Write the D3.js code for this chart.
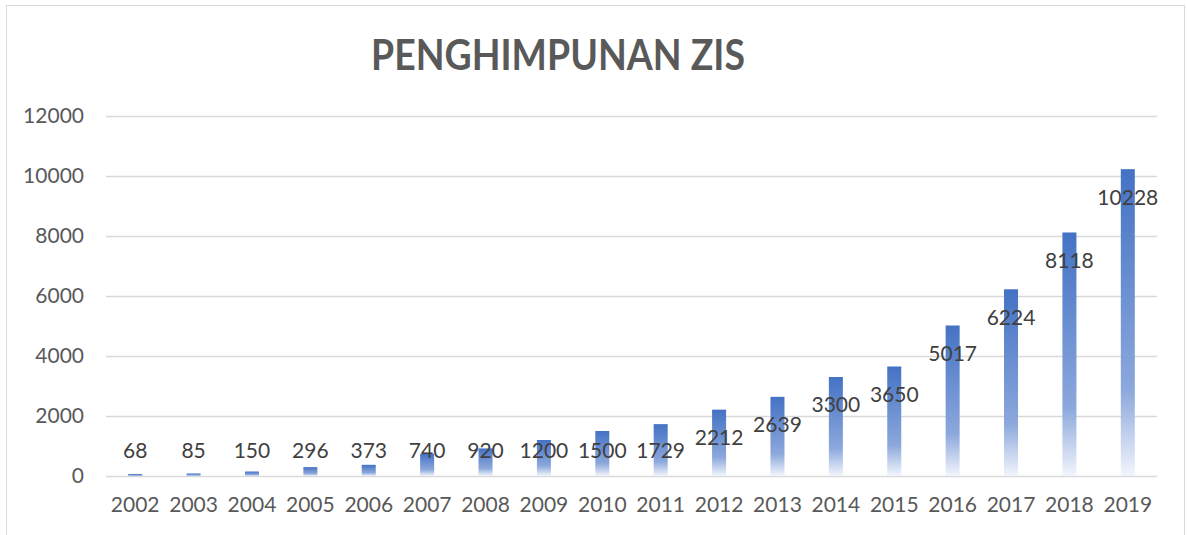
<!DOCTYPE html>
<html>
<head>
<meta charset="utf-8">
<script src="https://cdn.jsdelivr.net/npm/d3@7"></script>
<style>
  body { margin: 0; background: #fff; }
  svg text { font-family: Lato, "Open Sans", sans-serif; }
</style>
</head>
<body>
<div id="chart"></div>
<script>
const years = ["2002", "2003", "2004", "2005", "2006", "2007", "2008", "2009", "2010",
               "2011", "2012", "2013", "2014", "2015", "2016", "2017", "2018", "2019"];
const values = [68, 85, 150, 296, 373, 740, 920, 1200, 1500,
                1729, 2212, 2639, 3300, 3650, 5017, 6224, 8118, 10228];
const yTicks = [0, 2000, 4000, 6000, 8000, 10000, 12000];
const title = "PENGHIMPUNAN ZIS";

const w = 1187;
const h = 535;

const svg = d3.select("#chart")
              .append("svg")
              .attr("width", w)
              .attr("height", h);

// per-bar gradient, solid at the top fading out at the bottom
const grad = svg.append("defs")
                .append("linearGradient")
                .attr("id", "barFill")
                .attr("x1", 0).attr("y1", 0)
                .attr("x2", 0).attr("y2", 1);
grad.append("stop").attr("offset", "0%").attr("stop-color", "#4472C4");
grad.append("stop").attr("offset", "72%").attr("stop-color", "#8CA8DC");
grad.append("stop").attr("offset", "100%").attr("stop-color", "#F2F5FC");

// chart frame
svg.append("rect")
   .attr("x", 6.5).attr("y", 5.5)
   .attr("width", 1178).attr("height", 540)
   .attr("fill", "none")
   .attr("stroke", "#D9D9D9")
   .attr("stroke-width", 1);

const xScale = d3.scaleBand()
                 .domain(years)
                 .range([106, 1157])
                 .paddingInner(0.76)
                 .paddingOuter(0.38);

const yScale = d3.scaleLinear()
                 .domain([0, 12000])
                 .range([476, 116]);

// gridlines + y labels
const yAxis = d3.axisLeft(yScale)
                .tickValues(yTicks)
                .tickFormat(d3.format("d"))
                .tickSize(-(1157 - 106))
                .tickPadding(22);

const yG = svg.append("g")
              .attr("transform", "translate(106, 0)")
              .call(yAxis);
yG.select(".domain").remove();
yG.selectAll(".tick line").attr("stroke", "#D9D9D9").attr("stroke-width", 1.5);
yG.selectAll(".tick text")
  .attr("fill", "#595959")
  .style("font-size", "21px");

// x labels
const xAxis = d3.axisBottom(xScale).tickSize(0).tickPadding(21);
const xG = svg.append("g")
              .attr("transform", "translate(0, 476)")
              .call(xAxis);
xG.select(".domain").remove();
xG.selectAll(".tick text")
  .attr("fill", "#595959")
  .style("font-size", "21px");

// bars
svg.selectAll("rect.bar")
   .data(values)
   .enter()
   .append("rect")
   .attr("class", "bar")
   .attr("x", (d, i) => xScale(years[i]))
   .attr("width", xScale.bandwidth())
   .attr("y", d => yScale(d))
   .attr("height", d => yScale(0) - yScale(d))
   .attr("fill", "url(#barFill)");

// value labels, inside the bar top but not lower than a floor near the axis
svg.selectAll("text.val")
   .data(values)
   .enter()
   .append("text")
   .attr("class", "val")
   .attr("x", (d, i) => xScale(years[i]) + xScale.bandwidth() / 2)
   .attr("y", d => Math.min(yScale(d) + 28, yScale(0) - 25))
   .attr("dy", "0.35em")
   .attr("text-anchor", "middle")
   .attr("fill", "#404040")
   .style("font-size", "21px")
   .text(d => d);

svg.append("text")
   .attr("x", 558)
   .attr("y", 70)
   .attr("text-anchor", "middle")
   .attr("fill", "#595959")
   .attr("textLength", 374)
   .attr("lengthAdjust", "spacingAndGlyphs")
   .style("font-size", "42px")
   .style("font-weight", "bold")
   .text(title);
</script>
</body>
</html>
